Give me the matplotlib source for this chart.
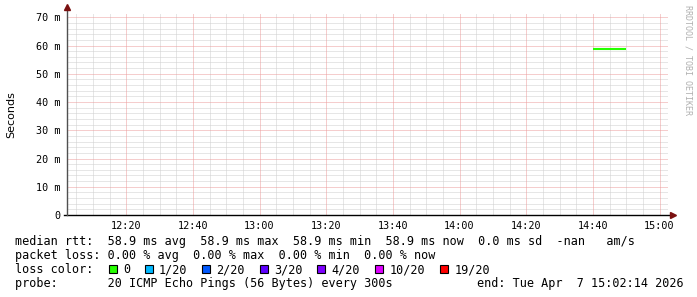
import matplotlib
matplotlib.use("Agg")
import matplotlib.pyplot as plt
from matplotlib.patches import Rectangle

# ---------------- data ----------------
window_start = "12:02:14"
window_end = "15:02:14"
x_tick_labels = ["12:20", "12:40", "13:00", "13:20", "13:40", "14:00", "14:20", "14:40", "15:00"]
y_ticks = [0, 10, 20, 30, 40, 50, 60, 70]
y_tick_labels = ["0", "10 m", "20 m", "30 m", "40 m", "50 m", "60 m", "70 m"]
rtt_times = ["14:40", "14:45", "14:50"]
rtt_ms = [58.9, 58.9, 58.9]
loss_labels = ["0", "1/20", "2/20", "3/20", "4/20", "10/20", "19/20"]
loss_colors = ["#26ff00", "#00b8ff", "#0059ff", "#5e00ff", "#7e00ff", "#dd00ff", "#ff0000"]
line_rtt = "median rtt:  58.9 ms avg  58.9 ms max  58.9 ms min  58.9 ms now  0.0 ms sd  -nan   am/s"
line_loss = "packet loss: 0.00 % avg  0.00 % max  0.00 % min  0.00 % now"
line_probe = "probe:       20 ICMP Echo Pings (56 Bytes) every 300s"
line_end = "end: Tue Apr  7 15:02:14 2026"
watermark = "RRDTOOL / TOBI OETIKER"


def minutes(s):
    parts = [float(p) for p in s.split(":")]
    while len(parts) < 3:
        parts.append(0.0)
    return parts[0] * 60 + parts[1] + parts[2] / 60


W, H = 697, 297
fig = plt.figure(figsize=(W / 100, H / 100), dpi=100)
fig.patch.set_facecolor("white")


def fx(x):
    return x / W


def fy(y):
    return 1 - y / H


ax_left, ax_right, ax_top, ax_bottom = 67, 668, 13.3, 215
ax = fig.add_axes([fx(ax_left), fy(ax_bottom), (ax_right - ax_left) / W, (ax_bottom - ax_top) / H])
ax.set_facecolor("white")

x0, x1 = minutes(window_start), minutes(window_end)
ax.set_xlim(x0, x0 + (x1 - x0) * (ax_right - ax_left) / 600.0)
ax.set_ylim(0, 71.4)

mono = "DejaVu Sans Mono"
grid_kw = dict(lw=0.72, ls=(0, (1, 1)))

xt = [minutes(s) for s in x_tick_labels]
# minor grid (skip positions covered by major grid)
t = minutes("12:05")
while t < x1:
    if all(abs(t - m) > 0.01 for m in xt):
        ax.axvline(t, color="#cfcfcf", zorder=1, **grid_kw)
    t += 5
for v in range(2, 72, 2):
    if v % 10:
        ax.axhline(v, color="#cfcfcf", zorder=1, **grid_kw)
# major grid
for t in xt:
    ax.axvline(t, color="#ec9c9c", zorder=2, **grid_kw)
for v in y_ticks[1:]:
    ax.axhline(v, color="#ec9c9c", zorder=2, **grid_kw)

# data
ax.plot([minutes(s) for s in rtt_times], rtt_ms, drawstyle="steps-post",
        color=loss_colors[0], lw=1.5, solid_capstyle="butt", zorder=5)

for sp in ax.spines.values():
    sp.set_visible(False)

ax.set_xticks(xt)
ax.set_xticklabels(x_tick_labels, fontfamily=mono, fontsize=7.3)
ax.set_yticks(y_ticks)
ax.set_yticklabels(y_tick_labels, fontfamily=mono, fontsize=7.3)
ax.tick_params(axis="x", length=0, pad=4.5)
ax.tick_params(axis="y", length=0, pad=5)
ax.set_ylabel("Seconds", fontsize=8, fontfamily="DejaVu Sans", labelpad=14)

# axis lines with arrows (in axes fraction)
ax.plot([-3 / 601, 1 + 4 / 601], [0, 0], color="black", lw=1, transform=ax.transAxes, clip_on=False, zorder=6)
ax.plot([0, 0], [0, 1 + 5 / 202], color="#505050", lw=1, transform=ax.transAxes, clip_on=False, zorder=6)
ax.plot([1 + 5 / 601], [0], marker=">", ms=4.5, color="#7a1010", mec="#7a1010",
        transform=ax.transAxes, clip_on=False, zorder=7)
ax.plot([0], [1 + 6 / 202], marker="^", ms=4.5, color="#7a1010", mec="#7a1010",
        transform=ax.transAxes, clip_on=False, zorder=7)

# watermark
fig.text(fx(688), fy(5), watermark, rotation=270, ha="center", va="top",
         fontfamily=mono, fontsize=6.0, color="#b0b0b0")

# legend / text rows
fs = 8.5
tx = 15
fig.text(fx(tx), fy(245), line_rtt, fontfamily=mono, fontsize=fs, va="baseline")
fig.text(fx(tx), fy(259.2), line_loss, fontfamily=mono, fontsize=fs, va="baseline")
fig.text(fx(tx), fy(287.4), line_probe, fontfamily=mono, fontsize=fs, va="baseline")
fig.text(fx(477), fy(287.4), line_end, fontfamily=mono, fontsize=fs, va="baseline")

adv = 7.2
s = "loss color:  "
fig.text(fx(tx), fy(273.3), s.rstrip(), fontfamily=mono, fontsize=fs, va="baseline")
for lab, col in zip(loss_labels, loss_colors):
    csq = len(s)
    s += "  "
    clab = len(s)
    s += lab + "  "
    sx = 16 + csq * adv - 1
    fig.add_artist(Rectangle((fx(sx), fy(272.5)), 8 / W, 8 / H, transform=fig.transFigure,
                             facecolor=col, edgecolor="black", lw=0.8))
    fig.text(fx(tx + clab * adv), fy(273.3), lab, fontfamily=mono, fontsize=fs, va="baseline")

fig.savefig("out.png", dpi=100, facecolor="white")
